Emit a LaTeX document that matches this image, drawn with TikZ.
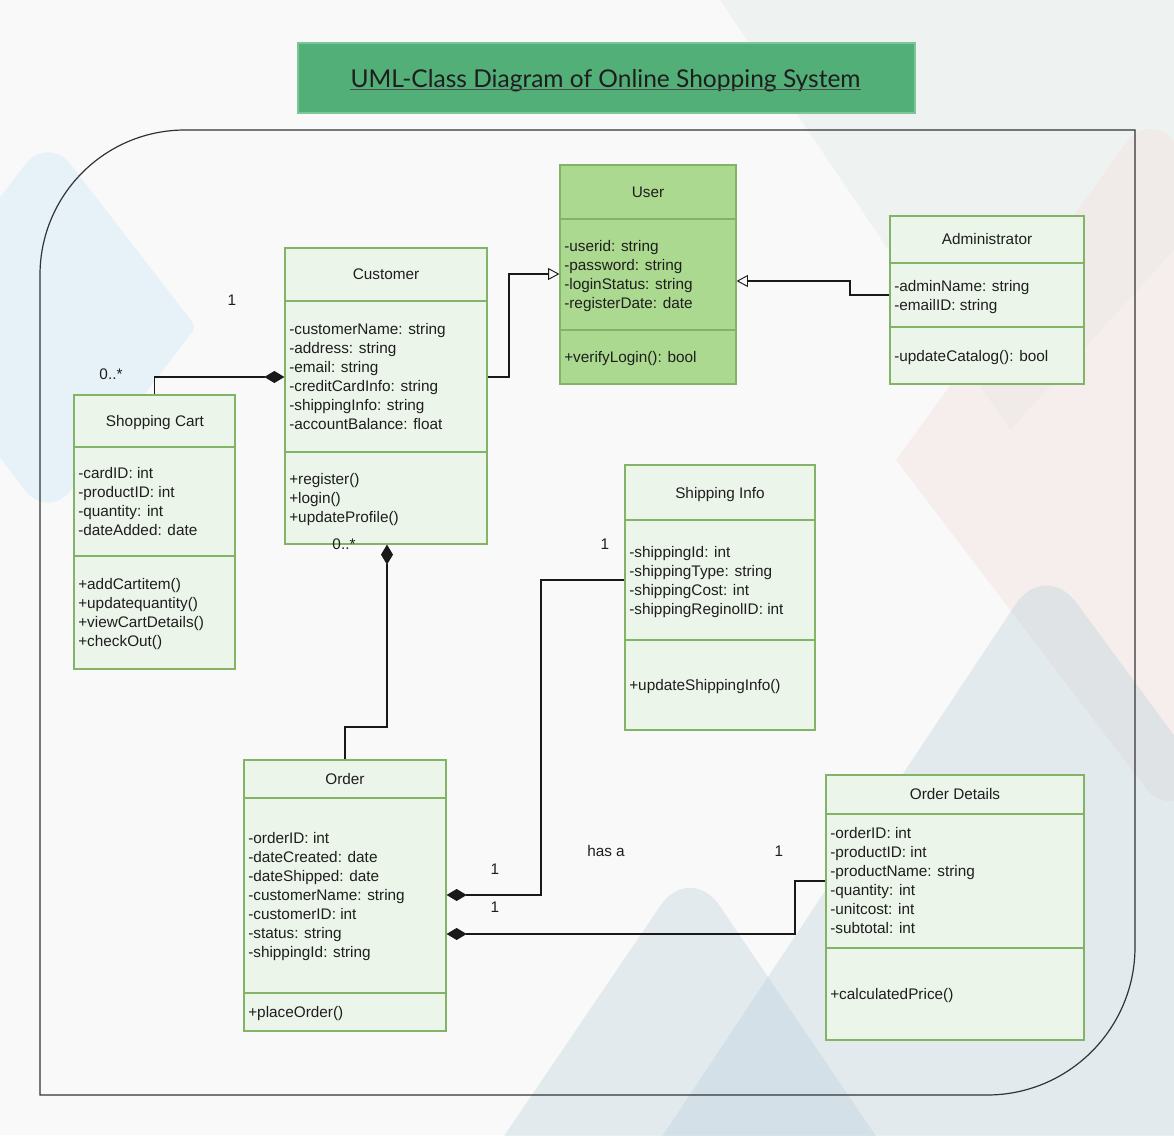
\documentclass[tikz,border=0pt]{standalone}
\usepackage{fontspec}
\setmainfont{Liberation Sans}
\newfontfamily\titlefont{Lato}
\usetikzlibrary{arrows.meta,fit,calc}
\definecolor{bgc}{HTML}{F9F9F9}
\definecolor{chev}{HTML}{E6F1F8}
\definecolor{grayshape}{HTML}{EEF3F2}
\definecolor{pinkshape}{HTML}{F4E2DE}
\definecolor{blueshape}{HTML}{B8D0DA}
\definecolor{titlegreen}{HTML}{52AF78}
\definecolor{titleborder}{HTML}{7CC79A}
\definecolor{boxfill}{HTML}{ECF5EA}
\definecolor{userfill}{HTML}{ABD98F}
\definecolor{boxline}{HTML}{82B366}
\definecolor{txt}{HTML}{1E1E1E}
\definecolor{framec}{HTML}{333333}
\newcommand\uf{\fontsize{11.5}{14.25}\selectfont}
\tikzset{
  classbox/.style={draw=boxline, fill=boxfill, line width=0.9pt, inner sep=0pt},
  userbox/.style={classbox, fill=userfill},
  divline/.style={draw=boxline, line width=0.9pt},
  ctitle/.style={font=\uf, text=txt, inner sep=0pt, anchor=base},
  attr/.style={font=\uf, text=txt, inner sep=0pt, anchor=north west, align=left},
  lbl/.style={font=\uf, text=txt, inner sep=0pt, anchor=base},
  conn/.style={draw=black!90, line width=0.8pt},
  gen/.style={conn, -{Triangle[length=8.5pt,width=9pt,fill=bgc,line width=0.7pt]}},
  comp/.style={conn, -{Diamond[length=15pt,width=9pt]}},
}
\begin{document}
\begin{tikzpicture}[x=0.75pt,y=-0.75pt]
\useasboundingbox (0,0) rectangle (1174,1135);
\clip (0,0) rectangle (1174,1135);
\fill[bgc] (0,0) rectangle (1174,1135);
% background decorations
\fill[grayshape] (720,0) -- (1174,0) -- (1174,250) -- (1010,430) -- cycle;
\fill[pinkshape, fill opacity=0.45] (896,460) [rounded corners=30pt] -- (1150,110) -- (1420,460) -- (1170,820) [sharp corners] -- cycle;
\fill[chev] (-100,327) [rounded corners=28pt] -- (48,135) [rounded corners=4pt] -- (196,327) [rounded corners=28pt] -- (48,520) [sharp corners] -- cycle;
\fill[blueshape, fill opacity=0.35, rounded corners=40pt] (1045,560) -- (1560,1260) -- (580,1260) -- cycle;
\fill[blueshape, fill opacity=0.35, rounded corners=40pt] (690,862) -- (960,1260) -- (420,1260) -- cycle;
% frame
\draw[framec, line width=0.9pt] (40,1095) -- (40,275) .. controls (40,194.9) and (104.9,130) .. (185,130)
  -- (1135,130) -- (1135,947) .. controls (1135,1028.7) and (1068.7,1095) .. (987,1095) -- cycle;
% title
\node[fill=titlegreen, draw=titleborder, line width=0.8pt, inner sep=0pt, fit={(298,43) (915,113)}] (titlebox) {};
\node[font=\titlefont\fontsize{18.4}{22}\selectfont, text=txt, inner sep=0pt, anchor=base] (title) at (605.5,87) {UML-Class Diagram of Online Shopping System};
\draw[txt!80, line width=0.9pt] ([yshift=-1.6pt]title.base west) -- ([yshift=-1.6pt]title.base east);

% User
\node[userbox, fit={(560,165) (736,384)}] (user) {};
\draw[divline] (user.west |- 0,219) -- (user.east |- 0,219);
\draw[divline] (user.west |- 0,330) -- (user.east |- 0,330);
\node[ctitle] (user-title) at (648,197.5) {User};
\node[attr] (user-attr) at (564,238.2) {\strut-userid: string\\\strut-password: string\\\strut-loginStatus: string\\\strut-registerDate: date};
\node[attr] (user-meth) at (564,349.2) {\strut+verifyLogin(): bool};

% Customer
\node[classbox, fit={(285,248) (487,544)}] (customer) {};
\draw[divline] (customer.west |- 0,301) -- (customer.east |- 0,301);
\draw[divline] (customer.west |- 0,452) -- (customer.east |- 0,452);
\node[ctitle] (customer-title) at (386,279.5) {Customer};
\node[attr] (customer-attr) at (289,321.2) {\strut-customerName: string\\\strut-address: string\\\strut-email: string\\\strut-creditCardInfo: string\\\strut-shippingInfo: string\\\strut-accountBalance: float};
\node[attr] (customer-meth) at (289,471.2) {\strut+register()\\\strut+login()\\\strut+updateProfile()};

% Administrator
\node[classbox, fit={(890,216) (1084,384)}] (admin) {};
\draw[divline] (admin.west |- 0,263) -- (admin.east |- 0,263);
\draw[divline] (admin.west |- 0,327) -- (admin.east |- 0,327);
\node[ctitle] (admin-title) at (987,244.5) {Administrator};
\node[attr] (admin-attr) at (894,278.2) {\strut-adminName: string\\\strut-emailID: string};
\node[attr] (admin-meth) at (894,348.2) {\strut-updateCatalog(): bool};

% Shopping Cart
\node[classbox, fit={(74,395) (235,669)}] (cart) {};
\draw[divline] (cart.west |- 0,447) -- (cart.east |- 0,447);
\draw[divline] (cart.west |- 0,556) -- (cart.east |- 0,556);
\node[ctitle] (cart-title) at (155,426.5) {Shopping Cart};
\node[attr] (cart-attr) at (78,465.2) {\strut-cardID: int\\\strut-productID: int\\\strut-quantity: int\\\strut-dateAdded: date};
\node[attr] (cart-meth) at (78,576.2) {\strut+addCartitem()\\\strut+updatequantity()\\\strut+viewCartDetails()\\\strut+checkOut()};

% Shipping Info
\node[classbox, fit={(625,465) (815,730)}] (ship) {};
\draw[divline] (ship.west |- 0,520) -- (ship.east |- 0,520);
\draw[divline] (ship.west |- 0,640) -- (ship.east |- 0,640);
\node[ctitle] (ship-title) at (720,498.5) {Shipping Info};
\node[attr] (ship-attr) at (629,544.2) {\strut-shippingId: int\\\strut-shippingType: string\\\strut-shippingCost: int\\\strut-shippingReginolID: int};
\node[attr] (ship-meth) at (629,677.2) {\strut+updateShippingInfo()};

% Order
\node[classbox, fit={(244,760) (446,1031)}] (order) {};
\draw[divline] (order.west |- 0,798) -- (order.east |- 0,798);
\draw[divline] (order.west |- 0,993) -- (order.east |- 0,993);
\node[ctitle] (order-title) at (345,784.5) {Order};
\node[attr] (order-attr) at (248,830.2) {\strut-orderID: int\\\strut-dateCreated: date\\\strut-dateShipped: date\\\strut-customerName: string\\\strut-customerID: int\\\strut-status: string\\\strut-shippingId: string};
\node[attr] (order-meth) at (248,1004.2) {\strut+placeOrder()};

% Order Details
\node[classbox, fit={(826,775) (1084,1040)}] (details) {};
\draw[divline] (details.west |- 0,814) -- (details.east |- 0,814);
\draw[divline] (details.west |- 0,948) -- (details.east |- 0,948);
\node[ctitle] (details-title) at (955,799.5) {Order Details};
\node[attr] (details-attr) at (830,825.2) {\strut-orderID: int\\\strut-productID: int\\\strut-productName: string\\\strut-quantity: int\\\strut-unitcost: int\\\strut-subtotal: int};
\node[attr] (details-meth) at (830,986.2) {\strut+calculatedPrice()};

% connectors
\draw[gen] (customer.east |- 0,377) -- (509,377) -- (509,274) -- (user.west |- 0,274);
\draw[gen] (admin.west |- 0,295) -- (850,295) -- (850,281) -- (user.east |- 0,281);
\draw[comp] (cart.north) |- (customer.west |- 0,377);
\draw[comp] (order.north) -- (order.north |- 0,727) -| (customer.south -| 387,0);
\draw[comp] (ship.west |- 0,580) -- (541,580) |- (order.east |- 0,895);
\draw[comp] (details.west |- 0,881) -- (795,881) |- (order.east |- 0,934);

% labels
\node[lbl] (l-cust1) at (232,305.5) {1};
\node[lbl] (l-cart) at (111,379.5) {0..*};
\node[lbl] (l-ord) at (344,549.5) {0..*};
\node[lbl] (l-ship1) at (605,549.5) {1};
\node[lbl] (l-ord1) at (495,874.5) {1};
\node[lbl] (l-ord2) at (495,912.5) {1};
\node[lbl] (l-hasa) at (606,856.5) {has a};
\node[lbl] (l-det1) at (779,856.5) {1};
\end{tikzpicture}
\end{document}
